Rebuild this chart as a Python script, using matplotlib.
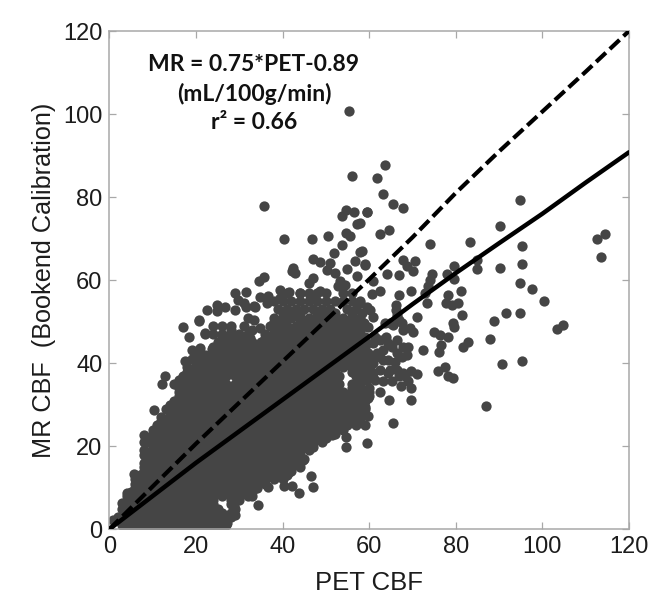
"""Scatter of MR CBF against PET CBF, with unity line and regression line."""

import matplotlib
matplotlib.use("Agg")
import matplotlib.pyplot as plt

# dense part of the cloud, one list of PET values per MR row
cloud_rows = [1, 3, 5, 7, 9, 11, 13, 15, 17, 19, 21, 23, 25, 27, 29, 31, 33, 35, 37, 39, 41, 43, 45, 47, 49, 51, 53,
              55, 57]
cloud_pet = [
    [3, 5, 7, 9, 11, 13, 15, 17, 19, 21, 23, 25, 27],
    [2, 4, 6, 8, 10, 12, 14, 16, 18, 20, 22, 24, 26, 28],
    [3, 5, 7, 9, 11, 13, 15, 17, 19, 21, 23, 25, 29],
    [4, 6, 8, 10, 12, 14, 16, 18, 20, 22, 24, 28, 30],
    [5, 7, 9, 11, 13, 15, 17, 19, 21, 23, 25, 27, 29, 31, 33],
    [6, 8, 10, 12, 14, 16, 18, 20, 22, 24, 26, 28, 30, 32, 34, 36],
    [7, 9, 11, 13, 15, 17, 19, 21, 23, 25, 27, 29, 31, 33, 35, 37, 39, 41],
    [8, 10, 12, 14, 16, 18, 20, 22, 24, 26, 28, 30, 32, 34, 36, 38, 40, 42, 44],
    [9, 11, 13, 15, 17, 19, 21, 23, 25, 27, 29, 31, 33, 35, 37, 39, 41, 43, 45],
    [8, 10, 12, 14, 16, 18, 20, 22, 24, 26, 28, 30, 32, 34, 36, 38, 40, 42, 44, 46],
    [9, 11, 13, 15, 17, 19, 21, 23, 25, 27, 29, 31, 33, 35, 37, 39, 41, 43, 45, 47, 49],
    [10, 12, 14, 16, 18, 20, 22, 24, 26, 28, 30, 32, 34, 36, 38, 40, 42, 44, 46, 48, 50, 52],
    [11, 13, 15, 17, 19, 21, 23, 25, 27, 29, 31, 33, 35, 37, 39, 41, 43, 45, 47, 49, 51, 53, 55, 57, 59],
    [12, 14, 16, 18, 20, 22, 24, 26, 28, 30, 32, 34, 36, 38, 40, 42, 44, 46, 48, 50, 52, 54, 56, 58],
    [13, 15, 17, 19, 21, 23, 25, 27, 29, 31, 33, 35, 37, 39, 41, 43, 45, 47, 49, 51, 53, 55, 57, 59],
    [15, 17, 19, 21, 23, 25, 27, 29, 31, 33, 35, 37, 39, 41, 43, 45, 47, 49, 51, 53, 55, 57, 59],
    [16, 18, 20, 22, 24, 26, 28, 30, 32, 34, 36, 38, 40, 42, 44, 46, 48, 50, 52, 54, 56, 58, 60],
    [15, 17, 19, 21, 23, 25, 27, 29, 31, 33, 35, 37, 39, 41, 43, 45, 47, 49, 51, 53, 56, 58],
    [17, 19, 21, 23, 25, 27, 29, 31, 33, 35, 37, 39, 41, 43, 45, 47, 49, 51, 53, 57, 59],
    [18, 20, 22, 24, 26, 28, 30, 32, 34, 36, 38, 40, 42, 44, 46, 48, 50, 52, 54, 56, 58],
    [19, 21, 23, 25, 27, 29, 31, 33, 35, 37, 39, 41, 43, 45, 47, 49, 51, 53, 55, 57, 59],
    [24, 26, 28, 30, 32, 34, 36, 38, 40, 42, 44, 46, 48, 50, 52, 54, 56, 58],
    [25, 27, 29, 31, 33, 35, 37, 39, 41, 43, 45, 47, 49, 51, 53, 55, 57],
    [22, 24, 26, 28, 30, 32, 36, 38, 40, 42, 44, 46, 48, 50, 52, 54, 56, 58],
    [24, 26, 28, 31, 37, 39, 41, 43, 45, 47, 49, 51, 53, 55, 57, 59],
    [38, 40, 42, 44, 46, 48, 50, 52, 54, 56, 58],
    [39, 41, 43, 45, 47, 49, 51, 55, 57],
    [38, 40, 42, 44, 46, 48, 50, 52, 54, 56, 58],
    [41, 44, 46, 48, 50, 54, 56],
]

# rows between the ones above, closing the gaps in the dense part
filler_rows = [0, 2, 4, 6, 8, 10, 12, 14, 16, 18, 20, 22, 24, 26, 28, 30, 32, 34, 36, 38, 40, 42, 44, 46, 48, 50, 52]
filler_pet = [
    [4, 6, 8, 10, 12, 14, 16, 18, 20, 22, 24, 26],
    [4, 6, 8, 10, 12, 14, 16, 18, 20, 22, 24, 26],
    [4, 6, 8, 10, 12, 14, 16, 18, 20, 22, 24, 26, 28],
    [4, 6, 8, 10, 12, 14, 16, 18, 20, 22, 24, 28],
    [4, 6, 8, 10, 12, 14, 16, 18, 20, 22, 24, 26, 28, 30, 32],
    [6, 8, 10, 12, 14, 16, 18, 20, 22, 24, 26, 28, 30, 32, 34],
    [6, 8, 10, 12, 14, 16, 18, 20, 22, 24, 26, 28, 30, 32, 34, 36, 38, 40],
    [8, 10, 12, 14, 16, 18, 20, 22, 24, 26, 28, 30, 32, 34, 36, 38, 40, 42],
    [8, 10, 12, 14, 16, 18, 20, 22, 24, 26, 28, 30, 32, 34, 36, 38, 40, 42, 44],
    [8, 10, 12, 14, 16, 18, 20, 22, 24, 26, 28, 30, 32, 34, 36, 38, 40, 42, 44],
    [10, 12, 14, 16, 18, 20, 22, 24, 26, 28, 30, 32, 34, 36, 38, 40, 42, 44, 46],
    [10, 12, 14, 16, 18, 20, 22, 24, 26, 28, 30, 32, 34, 36, 38, 40, 42, 44, 46, 48, 50],
    [10, 12, 14, 16, 18, 20, 22, 24, 26, 28, 30, 32, 34, 36, 38, 40, 42, 44, 46, 48, 50, 52, 54],
    [12, 14, 16, 18, 20, 22, 24, 26, 28, 30, 32, 34, 36, 38, 40, 42, 44, 46, 48, 50, 52, 54, 56, 58],
    [14, 16, 18, 20, 22, 24, 26, 28, 30, 32, 34, 36, 38, 40, 42, 44, 46, 48, 50, 52, 54, 56, 58],
    [14, 16, 18, 20, 22, 24, 26, 28, 30, 32, 34, 36, 38, 40, 42, 44, 46, 48, 50, 52, 54, 56, 58],
    [16, 18, 20, 22, 24, 26, 28, 30, 32, 34, 36, 38, 40, 42, 44, 46, 48, 50, 52, 54, 56, 58, 60],
    [16, 18, 20, 22, 24, 26, 28, 30, 32, 34, 36, 38, 40, 42, 44, 46, 48, 50, 52, 56, 58, 60],
    [16, 18, 20, 22, 24, 26, 30, 32, 34, 36, 38, 40, 42, 44, 46, 48, 50, 52, 58],
    [18, 20, 22, 24, 26, 28, 30, 32, 34, 36, 38, 40, 42, 44, 46, 48, 50, 52, 56, 58],
    [20, 22, 24, 26, 28, 30, 32, 34, 36, 38, 40, 42, 44, 46, 48, 50, 52, 54, 56, 58, 60],
    [20, 22, 24, 26, 28, 30, 32, 34, 36, 38, 40, 42, 44, 46, 48, 50, 52, 54, 56, 58, 60],
    [24, 26, 28, 30, 32, 34, 36, 38, 40, 42, 44, 46, 48, 50, 52, 54, 56, 58],
    [26, 28, 30, 36, 38, 40, 42, 44, 46, 48, 50, 52, 54, 56, 58],
    [28, 33, 38, 40, 42, 44, 46, 48, 50, 52, 54, 56, 58],
    [38, 40, 44, 46, 48, 50, 52, 54, 56, 58],
    [40, 42, 44, 48, 50, 52, 56],
]

# separately visible points around the edge of the cloud
edge_pet = [
    55.4, 56.0, 35.7, 40.4, 46.8, 50.4, 54.7, 55.6, 57.3, 53.7, 53.7, 54.6, 56.4, 59.4, 51.9, 57.9,
    47.0, 48.7, 51.0, 42.5, 42.1, 42.9, 35.7, 34.6, 56.8, 59.1, 55.0, 57.1, 50.2, 52.1, 47.1, 46.0,
    53.3, 54.4, 52.9, 39.4, 41.4, 44.0, 46.4, 48.7, 29.0, 31.5, 29.8, 31.0, 34.8, 36.7, 36.4, 39.4,
    24.8, 26.7, 22.5, 24.8, 29.0, 33.3, 20.8, 17.1, 20.7, 18.4, 22.1, 19.0, 21.0, 23.6, 28.3, 31.0,
    32.5, 17.5, 12.9, 12.1, 10.4, 7.9, 7.9, 5.6, 4.0, 2.9, 0.9, 34.4, 32.9, 36.7, 40.4, 42.1,
    43.7, 47.1, 46.5, 41.4, 44.8, 47.1, 54.7, 54.7, 51.4, 59.4, 48.7, 34.8, 33.5, 32.0, 31.5, 33.7,
    30.2, 28.7, 29.0, 27.1, 33.0, 36.0, 38.0,
]
edge_mr = [
    100.7, 85.0, 77.9, 69.8, 69.8, 70.7, 71.4, 70.7, 73.6, 68.4, 75.5, 77.0, 76.4, 76.4, 66.6, 66.8,
    65.0, 64.4, 64.1, 62.9, 62.1, 61.7, 60.8, 59.9, 64.5, 64.0, 62.7, 60.9, 62.5, 61.7, 60.5, 59.3,
    59.7, 58.9, 58.5, 57.7, 57.1, 56.9, 56.5, 57.3, 56.9, 57.1, 55.3, 54.5, 55.9, 56.3, 54.5, 55.7,
    54.1, 53.5, 52.7, 52.5, 52.7, 53.7, 50.5, 48.8, 50.2, 46.3, 47.2, 43.2, 43.6, 43.4, 45.2, 45.8,
    46.0, 40.6, 36.8, 34.9, 28.8, 22.7, 21.1, 13.3, 8.7, 6.3, 2.2, 5.9, 7.9, 10.3, 10.5, 10.5,
    8.8, 10.3, 12.9, 13.9, 16.7, 19.9, 19.8, 22.2, 22.7, 20.7, 23.1, 48.4, 50.4, 51.0, 53.6, 53.6,
    8.3, 5.5, 3.4, 1.4, 9.6, 12.0, 13.2,
]

# high flow points, right of the cloud
outer_pet = [
    63.7, 61.9, 63.2, 65.5, 67.8, 59.6, 57.9, 62.4, 64.6, 74.1, 83.4, 90.2, 94.8, 95.2, 95.2, 90.2,
    84.8, 84.8, 79.7, 77.9, 79.7, 74.5, 74.1, 73.7, 72.9, 73.3, 81.2, 78.3, 77.8, 79.1, 80.6, 81.5,
    79.3, 79.5, 71.0, 69.6, 67.8, 68.7, 70.5, 70.1, 66.9, 64.2, 61.0, 59.0, 58.3, 62.5, 60.6, 66.9,
    66.2, 66.2, 94.8, 97.5, 100.3, 94.8, 91.5, 88.9, 87.9, 90.6, 95.2, 104.7, 103.4, 112.6, 114.4, 113.5,
    87.0, 75.0, 76.4, 78.3, 76.6, 76.2, 72.4, 82.9, 81.6, 76.0, 77.5, 78.3, 79.3, 69.6, 71.0, 69.6,
    67.3, 69.6, 64.6, 62.5, 59.8, 59.0, 59.8, 65.6, 70.1, 69.5, 67.5, 66.8, 63.7, 65.6, 62.5, 64.0,
    63.2, 65.2, 67.9, 69.0, 68.7, 66.0, 63.3, 60.6, 59.8, 61.0, 62.5, 64.8, 66.8, 65.2, 63.3, 61.0,
    68.3, 59.4, 58.7, 59.0, 58.7, 58.7, 60.2, 59.4, 61.0, 59.8, 58.7, 59.0, 58.3, 57.9,
    61.4, 61.8, 64.4, 66.4, 66.4, 67.5, 61.4, 64.4, 66.4, 67.9, 69.0, 62.5, 64.4, 58.7, 59.4, 58.3,
    60.2, 59.4, 61.0, 64.8, 66.4, 67.9,
]
outer_mr = [
    87.8, 84.5, 80.7, 78.3, 77.3, 76.5, 73.7, 71.2, 72.1, 68.7, 69.2, 73.1, 79.3, 68.3, 64.0, 63.0,
    64.9, 62.6, 63.4, 61.6, 60.2, 61.6, 60.1, 58.5, 57.0, 54.5, 57.3, 56.5, 54.5, 54.1, 54.5, 51.6,
    49.6, 48.7, 51.2, 57.3, 64.9, 63.4, 64.5, 62.1, 61.3, 61.6, 59.7, 63.7, 66.9, 57.3, 56.7, 56.5,
    54.1, 52.7, 59.3, 57.8, 55.0, 52.0, 52.1, 50.2, 45.9, 39.7, 40.6, 49.2, 48.3, 69.8, 71.2, 65.5,
    29.7, 47.4, 46.8, 46.4, 44.4, 42.8, 43.1, 45.1, 43.8, 38.2, 39.2, 37.0, 36.4, 38.2, 37.4, 34.0,
    34.5, 31.2, 31.2, 33.0, 31.6, 29.5, 27.3, 25.5, 47.6, 48.4, 49.6, 50.4, 49.8, 49.2, 45.6, 46.4,
    43.2, 44.0, 44.0, 44.0, 42.0, 40.4, 40.8, 41.6, 42.4, 40.0, 38.4, 38.4, 36.8, 35.6, 35.6, 37.6,
    36.8, 36.0, 33.6, 44.0, 40.8, 38.4, 52.8, 53.6, 51.2, 48.8, 49.6, 46.4, 52.0, 54.4,
    46.4, 42.4, 44.8, 45.6, 42.4, 41.6, 36.0, 37.6, 38.4, 37.6, 35.6, 41.6, 40.8, 31.2, 32.8, 28.8,
    39.2, 44.8, 44.8, 49.6, 51.6, 48.0,
]

line_pet = [0, 20, 40, 60, 70, 80, 90, 100, 110, 120]
unity_mr = [0, 20.6, 40.4, 60.2, 70.3, 81.0, 91.0, 100.6, 110.2, 120]
fit_mr = [0, 16.0, 31.2, 46.4, 54.2, 61.7, 68.9, 76.0, 83.5, 90.8]

ticks = [0, 20, 40, 60, 80, 100, 120]
note_lines = ["MR = 0.75*PET-0.89", "(mL/100g/min)", "r\u00b2 = 0.66"]

DOT_COLOR = "#454545"
AXIS_COLOR = "#a8a8a8"
TEXT_COLOR = "#1c1c1c"


def rows_to_points(rows, values_per_row):
    pet, mr = [], []
    for row, values in zip(rows, values_per_row):
        pet.extend(values)
        mr.extend([row] * len(values))
    return pet, mr


def main() -> None:
    plt.rcParams["font.family"] = ["Liberation Sans", "DejaVu Sans"]
    fig = plt.figure(figsize=(6.69, 6.14), dpi=100)
    ax = fig.add_axes([109.3 / 669, 1 - 529.3 / 614, 519.7 / 669, 498.3 / 614])

    cloud_x, cloud_y = rows_to_points(cloud_rows, cloud_pet)
    fill_x, fill_y = rows_to_points(filler_rows, filler_pet)
    pet = cloud_x + fill_x + edge_pet + outer_pet
    mr = cloud_y + fill_y + edge_mr + outer_mr
    ax.plot(pet, mr, "o", color=DOT_COLOR, markersize=7.4, markeredgewidth=0, zorder=2)
    ax.plot(line_pet, unity_mr, color="black", linewidth=3.0, dashes=(3.2, 1.3), zorder=3)
    ax.plot(line_pet, fit_mr, color="black", linewidth=3.2, solid_capstyle="round", zorder=3)

    ax.set_xlim(0, 120)
    ax.set_ylim(0, 120)
    ax.set_xticks(ticks)
    ax.set_yticks(ticks)
    ax.tick_params(direction="in", length=5, width=0.9, color=AXIS_COLOR, top=True, right=True,
                   labelsize=17, labelcolor=TEXT_COLOR, pad=5)
    for spine in ax.spines.values():
        spine.set_color(AXIS_COLOR)
        spine.set_linewidth(1.1)

    ax.set_xlabel("PET CBF", fontsize=18.5, color=TEXT_COLOR, labelpad=9)
    ax.set_ylabel("MR CBF  (Bookend Calibration)", fontsize=18.2, color=TEXT_COLOR, labelpad=5)

    for text, y in zip(note_lines, [112.0, 104.8, 98.0]):
        ax.text(33.4, y, text, ha="center", va="center", fontsize=16.5, fontweight="bold",
                family=["Lato", "DejaVu Sans"], color="#111111")

    fig.savefig("out.png", dpi=100)


if __name__ == "__main__":
    main()
